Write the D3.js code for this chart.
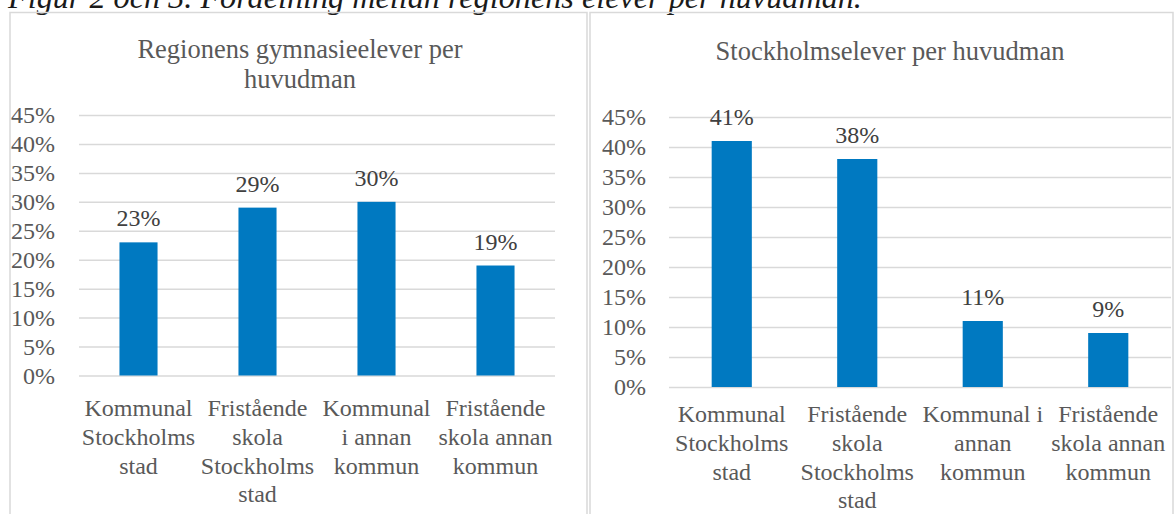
<!DOCTYPE html>
<html>
<head>
<meta charset="utf-8">
<script src="https://cdn.jsdelivr.net/npm/d3@7"></script>
<style>
  body { margin: 0; background: #fff; }
  svg { display: block; }
  svg text { font-family: "Liberation Serif", "Times New Roman", serif !important; }
</style>
</head>
<body>
<div id="chart"></div>
<script>
var caption = "Figur 2 och 3. Fördelning mellan regionens elever per huvudman.";

var categories = [
    "Kommunal Stockholms stad",
    "Fristående skola Stockholms stad",
    "Kommunal i annan kommun",
    "Fristående skola annan kommun"
];

var regionTitle = ["Regionens gymnasieelever per", "huvudman"];
var regionValues = [0.23, 0.29, 0.30, 0.19];

var sthlmTitle = ["Stockholmselever per huvudman"];
var sthlmValues = [0.41, 0.38, 0.11, 0.09];

var yTicks = [0, 0.05, 0.10, 0.15, 0.20, 0.25, 0.30, 0.35, 0.40, 0.45];

var w = 1174;
var h = 514;
var serif = "'Liberation Serif', 'Times New Roman', serif";

var svg = d3.select("#chart")
    .append("svg")
    .attr("width", w)
    .attr("height", h);

// caption, partly cut at the top like in the reference
var cap = svg.append("text")
    .attr("x", 8)
    .attr("y", 8)
    .attr("font-style", "italic")
    .attr("font-size", 28)
    .attr("fill", "#1a1a1a")
    .style("font-family", serif)
    .text(caption);
var capW = cap.node().getComputedTextLength();
cap.attr("font-size", 28 * 854 / capW);

// chart frames
svg.append("rect")
    .attr("x", 10).attr("y", 12.5)
    .attr("width", 577).attr("height", 540)
    .attr("fill", "none").attr("stroke", "#d9d9d9").attr("stroke-width", 1.5);
svg.append("rect")
    .attr("x", 590).attr("y", 12.5)
    .attr("width", 583).attr("height", 540)
    .attr("fill", "none").attr("stroke", "#d9d9d9").attr("stroke-width", 1.5);

function wrap(text, width) {
    text.each(function() {
        var t = d3.select(this);
        var words = t.text().split(/\s+/);
        var x = t.attr("x");
        var lines = [];
        var line = [];
        t.text(null);
        var probe = t.append("tspan").attr("x", x);
        words.forEach(function(word) {
            line.push(word);
            probe.text(line.join(" "));
            if (probe.node().getComputedTextLength() > width && line.length > 1) {
                line.pop();
                lines.push(line.join(" "));
                line = [word];
            }
        });
        lines.push(line.join(" "));
        probe.remove();
        lines.forEach(function(l, i) {
            t.append("tspan")
                .attr("x", x)
                .attr("dy", i == 0 ? 0 : 28.8)
                .text(l);
        });
    });
}

function drawChart(opt) {
    var x = d3.scaleBand()
        .domain(categories)
        .range([opt.left, opt.right]);

    var y = d3.scaleLinear()
        .domain([0, 0.45])
        .range([opt.bottom, opt.top]);

    var g = svg.append("g");

    // title
    g.selectAll(".title")
        .data(opt.title)
        .enter()
        .append("text")
        .attr("x", opt.titleX)
        .attr("y", function(d, i) { return opt.titleY + i * 30; })
        .attr("text-anchor", "middle")
        .attr("font-size", 26.5)
        .attr("fill", "#595959")
        .style("font-family", serif)
        .text(function(d) { return d; });

    // y axis (gridlines + labels)
    var yAxis = d3.axisLeft(y)
        .tickValues(yTicks)
        .tickSize(-(opt.right - opt.left))
        .tickPadding(opt.left - opt.labelX)
        .tickFormat(d3.format(".0%"));

    var ya = g.append("g")
        .attr("transform", "translate(" + opt.left + ",0)")
        .call(yAxis)
        .attr("font-family", serif);
    ya.select(".domain").remove();
    ya.selectAll(".tick line")
        .attr("stroke", "#d9d9d9")
        .attr("stroke-width", 1.5);
    ya.selectAll(".tick text")
        .style("font-family", serif)
        .attr("font-size", 24)
        .attr("fill", "#595959");

    var bw = x.bandwidth() * 0.32;

    g.selectAll(".bar")
        .data(opt.values)
        .enter()
        .append("rect")
        .attr("x", function(d, i) { return x(categories[i]) + x.bandwidth() / 2 - bw / 2; })
        .attr("y", function(d) { return y(d); })
        .attr("width", bw)
        .attr("height", function(d) { return y(0) - y(d); })
        .attr("fill", "#0079c1");

    g.selectAll(".val")
        .data(opt.values)
        .enter()
        .append("text")
        .attr("x", function(d, i) { return x(categories[i]) + x.bandwidth() / 2; })
        .attr("y", function(d) { return y(d) - 16; })
        .attr("text-anchor", "middle")
        .attr("font-size", 24)
        .attr("fill", "#404040")
        .style("font-family", serif)
        .text(function(d) { return d3.format(".0%")(d); });

    g.selectAll(".cat")
        .data(categories)
        .enter()
        .append("text")
        .attr("x", function(d) { return x(d) + x.bandwidth() / 2; })
        .attr("y", opt.catY)
        .attr("text-anchor", "middle")
        .attr("font-size", 24)
        .attr("fill", "#595959")
        .style("font-family", serif)
        .text(function(d) { return d; })
        .call(wrap, x.bandwidth());
}

drawChart({
    title: regionTitle, values: regionValues,
    left: 79, right: 555, top: 115, bottom: 375.5,
    labelX: 55, titleX: 300, titleY: 58, catY: 416
});

drawChart({
    title: sthlmTitle, values: sthlmValues,
    left: 669, right: 1171, top: 117, bottom: 387,
    labelX: 646, titleX: 890, titleY: 60, catY: 422
});
</script>
</body>
</html>
